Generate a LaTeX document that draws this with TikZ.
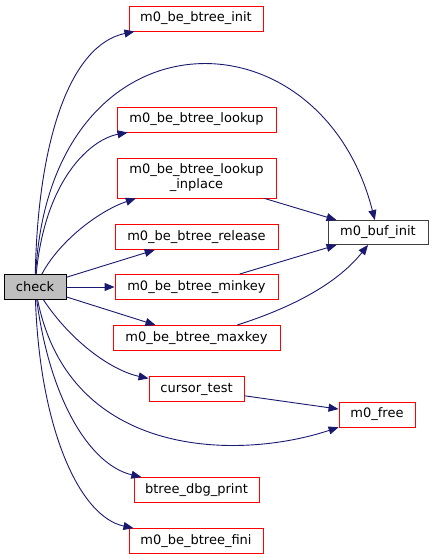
\documentclass[tikz,border=0pt]{standalone}
\usepackage{fontspec}
\setmainfont{DejaVu Sans}
\usepackage{tikz}
\usetikzlibrary{arrows.meta,positioning}
\definecolor{EdgeBlue}{RGB}{25,25,112}
\definecolor{BoxRed}{RGB}{255,0,0}
\definecolor{BoxGray}{RGB}{191,191,191}

\begin{document}
\begin{tikzpicture}[x=1pt,y=-1pt,
  fn/.style={draw=BoxRed,line width=0.9pt,inner sep=0pt,minimum height=25pt,
             align=center,font=\fontsize{13}{15}\selectfont},
  arr/.style={-{Triangle[length=10pt,width=8pt]},line width=0.9pt,EdgeBlue},
]
\useasboundingbox (0,0) rectangle (432,560);
\node[fn,draw=black,fill=BoxGray,minimum width=62pt] (check) at (35,287) {check};
\node[fn,minimum width=134pt] (init) at (196,18.5) {m0\_be\_btree\_init};
\node[fn,minimum width=159pt] (lookup) at (196.5,119.5) {m0\_be\_btree\_lookup};
\node[fn,minimum width=159pt,minimum height=40pt] (inplace) at (196.5,178)
  {m0\_be\_btree\_lookup\\\_inplace};
\node[fn,minimum width=163pt] (release) at (196.5,237) {m0\_be\_btree\_release};
\node[fn,minimum width=163pt] (minkey) at (196.5,287) {m0\_be\_btree\_minkey};
\node[fn,minimum width=167pt] (maxkey) at (196.5,338) {m0\_be\_btree\_maxkey};
\node[fn,minimum width=95pt] (cursor) at (196.5,389) {cursor\_test};
\node[fn,minimum width=125pt] (dbg) at (196.5,490) {btree\_dbg\_print};
\node[fn,minimum width=134pt] (fini) at (196,541) {m0\_be\_btree\_fini};
\node[fn,draw=black!75,minimum width=100pt,minimum height=24pt] (bufinit) at (378,232.5) {m0\_buf\_init};
\node[fn,minimum width=76pt] (free) at (377,414.5) {m0\_free};
\draw[arr] (check) .. controls (38,140) and (70,45) .. (init);
\draw[arr] (check) .. controls (50,5) and (320,5) .. (bufinit);
\draw[arr] (check) .. controls (45,180) and (90,139.5) .. (lookup);
\draw[arr] (check) .. controls (60,240) and (100,210.5) .. (inplace);
\draw[arr] (check) -- (release);
\draw[arr] (check) -- (minkey);
\draw[arr] (check) -- (maxkey);
\draw[arr] (check) .. controls (70,340) and (110,370) .. (cursor);
\draw[arr] (check) .. controls (70,460) and (240,460) .. (free);
\draw[arr] (check) .. controls (50,400) and (90,465) .. (dbg);
\draw[arr] (check) .. controls (40,430) and (80,517) .. (fini);
\draw[arr] (inplace) -- (bufinit);
\draw[arr] (minkey) -- (bufinit);
\draw[arr] (maxkey) .. controls (300,305) and (340,280) .. (bufinit);
\draw[arr] (cursor) -- (free);
\end{tikzpicture}
\end{document}
